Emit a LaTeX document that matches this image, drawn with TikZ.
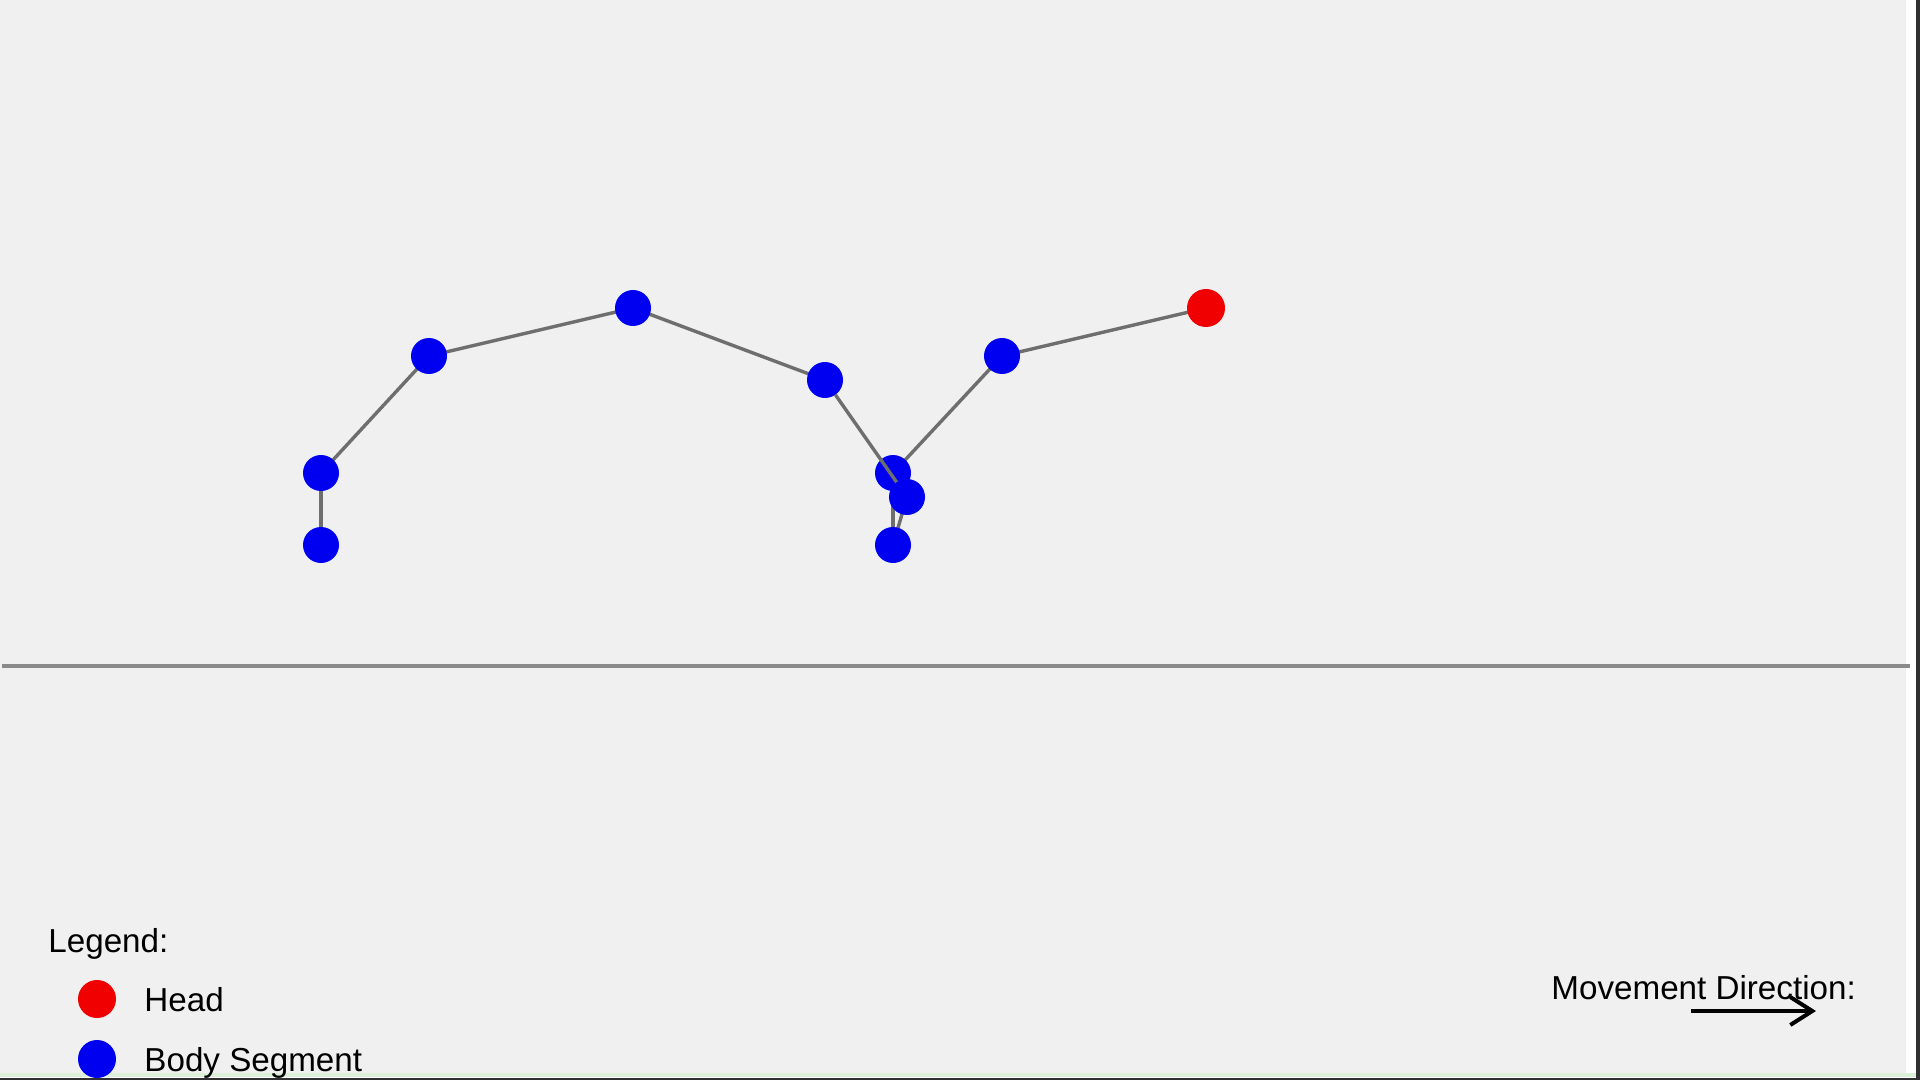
\documentclass[tikz,border=0pt]{standalone}
\usepackage{fontspec}
\setmainfont{Liberation Sans}
\usetikzlibrary{arrows.meta}
\pgfdeclarelayer{background}
\pgfdeclarelayer{fgline}
\pgfdeclarelayer{fgnode}
\pgfsetlayers{background,main,fgline,fgnode}
\definecolor{canvas}{HTML}{F0F0F0}
\definecolor{linkgray}{HTML}{6E6E6E}
\definecolor{groundgray}{HTML}{8A8A8A}
\definecolor{headred}{HTML}{F00000}
\definecolor{bodyblue}{HTML}{0000F0}
\definecolor{edgegreen}{HTML}{DDEFD8}
\definecolor{edgedark}{HTML}{303030}
\tikzset{
  seg/.style={circle, fill=bodyblue, minimum size=18pt, inner sep=0pt, outer sep=0pt},
  headseg/.style={circle, fill=headred, minimum size=19pt, inner sep=0pt, outer sep=0pt},
  link/.style={draw=linkgray, line width=1.7pt},
  lbl/.style={font=\fontsize{16.6}{19}\selectfont, text=black, inner sep=0pt, anchor=base west},
}
\begin{document}
\begin{tikzpicture}[x=0.5pt, y=-0.5pt]
% page and canvas
\begin{pgfonlayer}{background}
\fill[white] (0,0) rectangle (1920,1080);
\fill[canvas] (0,0) rectangle (1906,1073);
\fill[edgegreen] (0,1073) rectangle (1920,1077);
\fill[edgedark] (0,1077.5) rectangle (1920,1080);
\fill[edgedark] (1916,0) rectangle (1920,1080);
\end{pgfonlayer}
\useasboundingbox (0,0) rectangle (1920,1080);

% ground
\coordinate (gl) at (2,666);
\coordinate (gr) at (1910,666);
\draw[groundgray, line width=1.8pt] (gl) -- (gr);

% snake segments
\node[headseg] (h) at (1206,308) {};
\node[seg] (n1) at (1002,356) {};
\node[seg] (a) at (893,473) {};
\node[seg] (c) at (893,545) {};
\node[seg] (n5) at (825,380) {};
\node[seg] (n6) at (633,308) {};
\node[seg] (n7) at (429,356) {};
\node[seg] (n8) at (321,473) {};
\node[seg] (n9) at (321,545) {};
\begin{pgfonlayer}{fgnode}
\node[seg] (b) at (907,497) {};
\end{pgfonlayer}

\begin{pgfonlayer}{background}
\draw[link] (h.center) -- (n1.center);
\draw[link] (n1.center) -- (a.center);
\draw[link] (a.center) -- (c.center);
\draw[link] (c.center) -- (b.center);
\draw[link] (n5.center) -- (n6.center);
\draw[link] (n6.center) -- (n7.center);
\draw[link] (n7.center) -- (n8.center);
\draw[link] (n8.center) -- (n9.center);
\end{pgfonlayer}
\begin{pgfonlayer}{fgline}
\draw[link] (n5) -- (b.center);
\end{pgfonlayer}

% legend
\node[lbl] (legtitle) at (48,952) {Legend:};
\node[headseg, minimum size=19pt] (leghead) at (97,999) {};
\node[lbl] (legheadtxt) at (144,1011) {Head};
\node[seg, minimum size=19pt] (legbody) at (97,1059) {};
\node[lbl] (legbodytxt) at (144,1071) {Body Segment};

% movement direction
\node[lbl] (movtxt) at (1551,999) {Movement Direction:};
\coordinate (arrs) at (1691,1011);
\coordinate (arre) at (1816,1011);
\draw[black, line width=2pt, -{Straight Barb[length=11pt, width=14pt, line width=2pt]}] (arrs) -- (arre);
\end{tikzpicture}
\end{document}
